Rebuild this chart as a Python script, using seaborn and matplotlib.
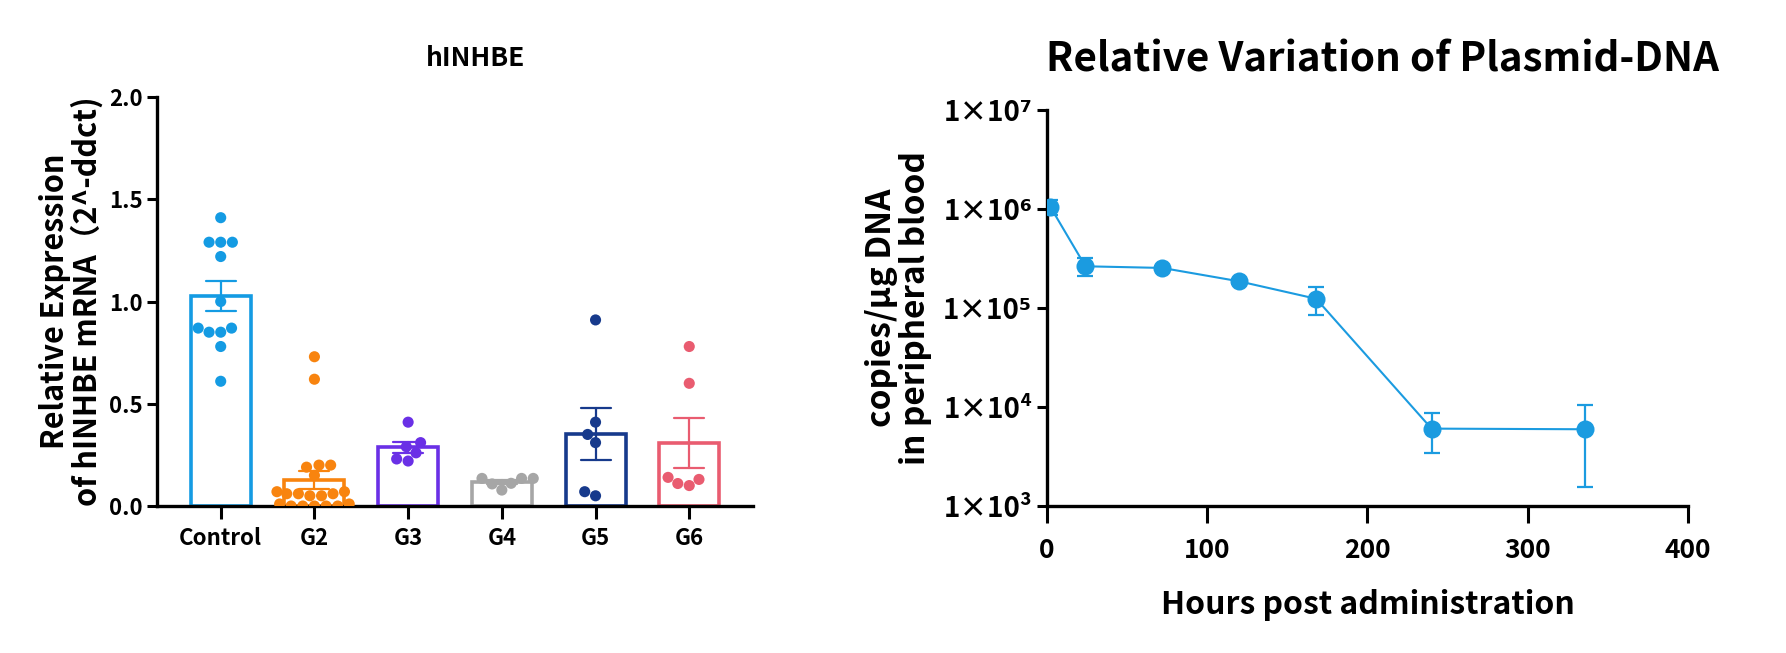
import numpy as np
import pandas as pd
import matplotlib
matplotlib.use("Agg")
import matplotlib.pyplot as plt
import seaborn as sns

# left panel: individual values per group
groups = ["Control", "G2", "G3", "G4", "G5", "G6"]
control = [1.41, 1.29, 1.29, 1.29, 1.22, 1.00, 0.87, 0.87, 0.85, 0.85, 0.78, 0.61]
g2 = [0.73, 0.62, 0.20, 0.20, 0.19, 0.15, 0.07, 0.06, 0.06, 0.05,
      0.05, 0.06, 0.07, 0.01, 0.01, 0.0, 0.0, 0.0, 0.0, 0.0]
g3 = [0.41, 0.31, 0.29, 0.26, 0.22, 0.23]
g4 = [0.135, 0.135, 0.078, 0.111, 0.108, 0.135]
g5 = [0.91, 0.41, 0.35, 0.31, 0.07, 0.05]
g6 = [0.78, 0.60, 0.14, 0.11, 0.13, 0.10]
group_colors = ["#149be3", "#f8840f", "#6a30e6", "#a6a6a6", "#173a8c", "#e95c70"]

# right panel: mean copies and SD per time point
hours = [2, 24, 72, 120, 168, 240, 336]
copies = [1.06e6, 2.64e5, 2.54e5, 1.86e5, 1.24e5, 6.05e3, 5.96e3]
copies_sd = [1.8e5, 5.5e4, 1.2e4, 1.0e4, 3.8e4, 2.6e3, 4.4e3]
line_color = "#1b9be0"

sns.set_theme(style="ticks")
plt.rcParams["font.family"] = ["Noto Sans CJK SC", "DejaVu Sans"]
plt.rcParams["font.weight"] = "heavy"
plt.rcParams["axes.labelweight"] = "heavy"
for k in ["text.color", "axes.labelcolor", "xtick.color", "ytick.color", "axes.edgecolor"]:
    plt.rcParams[k] = "black"

W = "heavy"
fig = plt.figure(figsize=(17.86, 6.53), dpi=100)

# ---------- left: bar + points ----------
vals = [control, g2, g3, g4, g5, g6]
df = pd.DataFrame({
    "group": np.repeat(groups, [len(v) for v in vals]),
    "value": np.concatenate(vals),
})
pal = dict(zip(groups, group_colors))

ax1 = fig.add_axes([0.0879, 0.2251, 0.3337, 0.6263])
sns.barplot(data=df, x="group", y="value", hue="group", palette=pal, order=groups,
            errorbar="se", fill=False, width=0.64, linewidth=2.6, capsize=0.32,
            err_kws={"linewidth": 1.6}, legend=False, ax=ax1, zorder=2)
sns.swarmplot(data=df, x="group", y="value", hue="group", palette=pal, order=groups,
              size=8, legend=False, ax=ax1, zorder=3, warn_thresh=1)
ax1.set_xlim(-0.68, 5.68)
ax1.set_ylim(0, 2.0)
ax1.set_yticks([0, 0.5, 1.0, 1.5, 2.0])
ax1.set_yticklabels(["0.0", "0.5", "1.0", "1.5", "2.0"])
ax1.set_xlabel("")
ax1.set_ylabel("Relative Expression\nof hINHBE mRNA（2^-ddct)", fontsize=22,
               fontweight=W, labelpad=4, linespacing=1.0)
ax1.set_title("hINHBE", fontsize=19, fontweight=W, pad=22, x=0.534)
ax1.tick_params(axis="y", width=2.2, length=7, labelsize=16)
ax1.tick_params(axis="x", width=2.2, length=9, labelsize=16, pad=6)
for lab in ax1.get_xticklabels() + ax1.get_yticklabels():
    lab.set_fontweight(W)
for s in ["left", "bottom"]:
    ax1.spines[s].set_linewidth(2.4)
sns.despine(ax=ax1)

# ---------- right: time course ----------
ax2 = fig.add_axes([0.5862, 0.2251, 0.3589, 0.6064])
ax2.errorbar(hours, copies, yerr=copies_sd, fmt="none", ecolor=line_color,
             elinewidth=1.6, capsize=6, capthick=1.6, zorder=2)
sns.lineplot(x=hours, y=copies, color=line_color, marker="o", markersize=13,
             markeredgewidth=0, linewidth=1.5, ax=ax2, zorder=3)
ax2.set_yscale("log")
ax2.set_ylim(1e3, 1e7)
ax2.set_xlim(0, 400)
ax2.set_xticks([0, 100, 200, 300, 400])
ax2.set_yticks([1e3, 1e4, 1e5, 1e6, 1e7])
ax2.set_yticklabels(["1×10³", "1×10⁴", "1×10⁵", "1×10⁶", "1×10⁷"])
ax2.minorticks_off()
ax2.set_xlabel("Hours post administration", fontsize=23, fontweight=W, labelpad=18)
ax2.set_ylabel("copies/μg DNA\nin peripheral blood", fontsize=24, fontweight=W,
               labelpad=8, linespacing=1.05)
ax2.set_title("Relative Variation of Plasmid-DNA", fontsize=29, fontweight=W, pad=28, x=0.523)
ax2.tick_params(axis="y", width=2.2, length=7, labelsize=20)
ax2.tick_params(axis="x", width=2.2, length=12, labelsize=19, pad=10)
for lab in ax2.get_xticklabels() + ax2.get_yticklabels():
    lab.set_fontweight(W)
for s in ["left", "bottom"]:
    ax2.spines[s].set_linewidth(2.4)
sns.despine(ax=ax2)

fig.savefig("out.png", dpi=100)
